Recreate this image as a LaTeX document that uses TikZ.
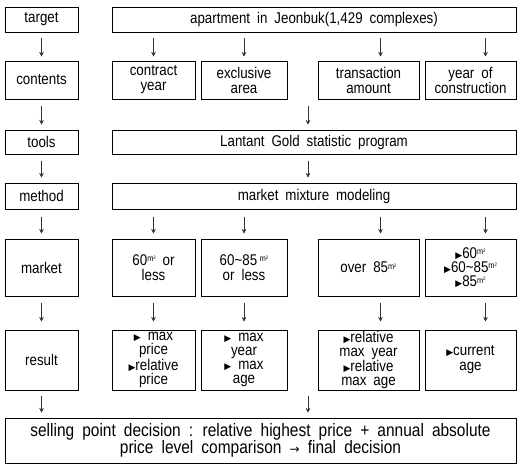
\documentclass[tikz,border=0pt]{standalone}
\usepackage{fontspec}
\setmainfont{Liberation Sans}[FakeStretch=0.86]
\newfontfamily\dejavu{DejaVu Sans}
\usetikzlibrary{arrows.meta,calc}
\newcommand{\sqm}{\raisebox{3.5pt}{\fontsize{8.5}{8.5}\selectfont m\raisebox{2.2pt}{\fontsize{5}{5}\selectfont 2}}}
\newcommand{\tri}{{\dejavu\fontsize{9}{9}\selectfont ▶}}
\newcommand{\wsp}{\spaceskip=0.45em plus 0.1em\relax}
\begin{document}
\begin{tikzpicture}[x=1pt,y=-1pt,
  box/.style={draw=black, line width=1pt, inner sep=0pt, align=center,
    font=\fontsize{15.5}{15}\selectfont, execute at begin node=\wsp},
  tight/.style={font=\fontsize{15.5}{14.2}\selectfont},
  arr/.style={-{Stealth[length=4.5pt,width=4.5pt]}, line width=0.6pt, draw=black!80}]
\useasboundingbox (0,0) rectangle (523,469);
% left column
\node[box, minimum width=73pt, minimum height=25pt] (lt)  at (41.5,19.5) {target};
\node[box, minimum width=73pt, minimum height=38pt] (lc)  at (41.5,80)   {contents};
\node[box, minimum width=73pt, minimum height=24pt] (lto) at (41.5,142)  {tools};
\node[box, minimum width=73pt, minimum height=26pt] (lme) at (41.5,196)  {method};
\node[box, minimum width=73pt, minimum height=57pt] (lma) at (41.5,267.5){market};
\node[box, minimum width=73pt, minimum height=60pt] (lre) at (41.5,360)  {result};
% right column
\node[box, minimum width=404pt, minimum height=25pt] (apt) at (314,19.5) {apartment in Jeonbuk(1,429 complexes)};
\node[box, minimum width=83pt,  minimum height=38pt] (c1) at (153.5,80) {contract\\year};
\node[box, minimum width=86pt,  minimum height=38pt] (c2) at (244,80)   {exclusive\\area};
\node[box, minimum width=101pt, minimum height=38pt] (c3) at (368.5,80) {transaction\\amount};
\node[box, minimum width=91pt,  minimum height=38pt] (c4) at (470.5,80) {year of\\construction};
\node[box, minimum width=404pt, minimum height=24pt] (tools) at (314,142) {Lantant Gold statistic program};
\node[box, minimum width=404pt, minimum height=26pt] (meth) at (314,196) {market mixture modeling};
\node[box, minimum width=83pt,  minimum height=57pt] (m1) at (153.5,267.5) {60\sqm{} or\\less};
\node[box, minimum width=86pt,  minimum height=57pt] (m2) at (244,267.5) {60\textasciitilde85\,\sqm\\or less};
\node[box, minimum width=101pt, minimum height=57pt] (m3) at (368.5,267.5) {over 85\sqm};
\node[box, tight, minimum width=91pt,  minimum height=57pt] (m4) at (470.5,267.5) {\tri60\sqm\\\tri60\textasciitilde85\sqm\\\tri85\sqm};
\node[box, tight, minimum width=83pt,  minimum height=60pt] (r1) at (153.5,360) {\tri{} max\\price\\\tri relative\\price};
\node[box, tight, minimum width=86pt,  minimum height=60pt] (r2) at (244,360) {\tri{} max\\year\\\tri{} max\\age};
\node[box, tight, minimum width=101pt, minimum height=60pt] (r3) at (368.5,360) {\tri relative\\max year\\\tri relative\\max age};
\node[box, minimum width=91pt,  minimum height=60pt] (r4) at (470.5,360) {\tri current\\age};
\node[box, minimum width=511pt, minimum height=45pt, font=\fontsize{18}{17}\selectfont] (fin) at (260.5,440.5)
  {selling point decision : relative highest price + annual absolute\\price level comparison {\dejavu\fontsize{12}{12}\selectfont →} final decision};
% left arrows
\draw[arr] ($(lt.south)+(0,5)$) -- ($(lc.north)+(0,-4)$);
\draw[arr] ($(lc.south)+(0,6)$) -- ($(lto.north)+(0,-5)$);
\draw[arr] ($(lto.south)+(0,6)$) -- ($(lme.north)+(0,-5)$);
\draw[arr] ($(lme.south)+(0,7)$) -- ($(lma.north)+(0,-5)$);
\draw[arr] ($(lma.south)+(0,6)$) -- ($(lre.north)+(0,-8)$);
\draw[arr] ($(lre.south)+(0,5)$) -- ($(fin.north -| lre.south)+(0,-5)$);
% target -> contents
\draw[arr] ($(apt.south -| c1.north)+(0,5)$) -- ($(c1.north)+(0,-4)$);
\draw[arr] ($(apt.south -| c2.north)+(0,5)$) -- ($(c2.north)+(0,-4)$);
\draw[arr] ($(apt.south -| c3.north)+(12,5)$) -- ($(c3.north)+(12,-4)$);
\draw[arr] ($(apt.south -| c4.north)+(15,5)$) -- ($(c4.north)+(15,-4)$);
% contents -> tools -> method
\draw[arr] ($(c2.south -| tools.north)+(-6,6)$) -- ($(tools.north)+(-6,-5)$);
\draw[arr] ($(tools.south)+(-6,6)$) -- ($(meth.north)+(-6,-5)$);
% method -> market
\draw[arr] ($(meth.south -| m1.north)+(0,7)$) -- ($(m1.north)+(0,-5)$);
\draw[arr] ($(meth.south -| m2.north)+(0,7)$) -- ($(m2.north)+(0,-5)$);
\draw[arr] ($(meth.south -| m3.north)+(12,7)$) -- ($(m3.north)+(12,-5)$);
\draw[arr] ($(meth.south -| m4.north)+(15,7)$) -- ($(m4.north)+(15,-5)$);
% market -> result
\draw[arr] ($(m1.south)+(0,6)$) -- ($(r1.north)+(0,-8)$);
\draw[arr] ($(m2.south)+(0,6)$) -- ($(r2.north)+(0,-8)$);
\draw[arr] ($(m3.south)+(12,6)$) -- ($(r3.north)+(12,-8)$);
\draw[arr] ($(m4.south)+(15,6)$) -- ($(r4.north)+(15,-8)$);
% result -> final
\draw[arr] ($(r2.south -| tools.north)+(-6,5)$) -- ($(fin.north -| tools.north)+(-6,-5)$);
\end{tikzpicture}
\end{document}
